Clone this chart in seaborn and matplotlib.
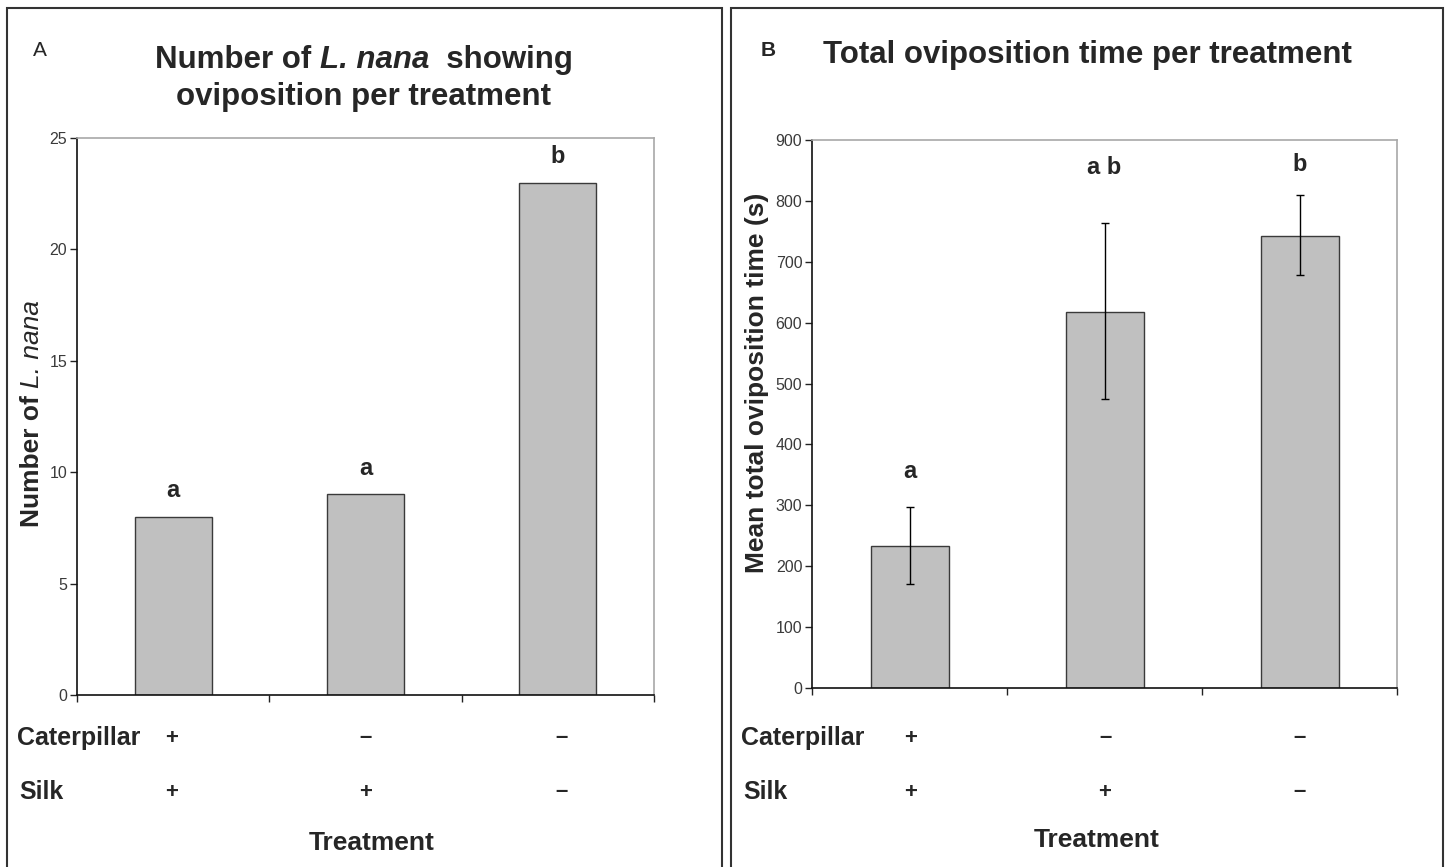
import matplotlib
matplotlib.use("Agg")
import matplotlib.pyplot as plt
from matplotlib.patches import Rectangle
import seaborn as sns
import pandas as pd
import numpy as np

# ---------------- data ----------------
treatments = ["Cat+ Silk+", "Cat- Silk+", "Cat- Silk-"]
num_lnana = [8, 9, 23]
mean_time = [233, 618, 743]
time_err_low = [170, 475, 678]
time_err_high = [298, 763, 810]
letters_a = ["a", "a", "b"]
letters_b = ["a", "a b", "b"]
caterpillar_signs = ["+", "\u2013", "\u2013"]
silk_signs = ["+", "+", "\u2013"]
yticks_a = [0, 5, 10, 15, 20, 25]
yticks_b = [0, 100, 200, 300, 400, 500, 600, 700, 800, 900]

sns.set_theme(style="white")
plt.rcParams["font.family"] = ["Liberation Sans", "DejaVu Sans"]

W, H = 1449, 867
fig = plt.figure(figsize=(W / 100, H / 100), dpi=100)

def fx(px):
    return px / W

def fy(py):
    return 1 - py / H

# panel borders
for x0, x1 in [(7, 722), (731, 1443)]:
    fig.patches.append(Rectangle((fx(x0), fy(870)), fx(x1) - fx(x0), fy(8) - fy(870),
                                 transform=fig.transFigure, fill=False,
                                 edgecolor="#333333", linewidth=1.5))

df_a = pd.DataFrame({"treatment": treatments, "value": num_lnana})
df_b = pd.DataFrame({"treatment": treatments, "value": mean_time})

ax_a = fig.add_axes([fx(77), fy(695), fx(654) - fx(77), fy(138) - fy(695)])
ax_b = fig.add_axes([fx(812), fy(688), fx(1397) - fx(812), fy(140) - fy(688)])

for ax, df in [(ax_a, df_a), (ax_b, df_b)]:
    sns.barplot(data=df, x="treatment", y="value", ax=ax, color="#C0C0C0",
                edgecolor="#3a3a3a", linewidth=1.0, width=0.4, errorbar=None,
                saturation=1)

# error bars on panel B
xpos = np.arange(len(treatments))
yerr = [np.array(mean_time) - np.array(time_err_low),
        np.array(time_err_high) - np.array(mean_time)]
ax_b.errorbar(xpos, mean_time, yerr=yerr, fmt="none", ecolor="black",
              elinewidth=1.0, capsize=3, capthick=1.0)

def style_axes(ax, ymax, yticks):
    ax.set_xlim(-0.5, 2.5)
    ax.set_ylim(0, ymax)
    ax.set_yticks(yticks)
    ax.set_yticklabels([str(t) for t in yticks], color="#3a3a3a", fontsize=11.5)
    ax.set_xticks([-0.5, 0.5, 1.5, 2.5])
    ax.set_xticklabels([])
    ax.set_xlabel("")
    ax.set_ylabel("")
    ax.tick_params(axis="both", direction="out", length=5, width=1, color="#222222",
                   bottom=True, left=True, pad=2)
    for s in ["left", "bottom"]:
        ax.spines[s].set_color("#111111")
        ax.spines[s].set_linewidth(1.2)
    for s in ["top", "right"]:
        ax.spines[s].set_color("#A8A8A8")
        ax.spines[s].set_linewidth(1.2)
    ax.set_facecolor("white")

style_axes(ax_a, 25, yticks_a)
style_axes(ax_b, 900, yticks_b)

# significance letters
fs_let = 17
for i, (v, l) in enumerate(zip(num_lnana, letters_a)):
    ax_a.annotate(l, (i, v), xytext=(0, 26), textcoords="offset pixels",
                  ha="center", va="center", fontsize=fs_let, fontweight="bold")
offs_b = [35, 56, 30]
for i, (v, l) in enumerate(zip(time_err_high, letters_b)):
    ax_b.annotate(l, (i, v), xytext=(0, offs_b[i]), textcoords="offset pixels",
                  ha="center", va="center", fontsize=fs_let, fontweight="bold")

renderer = fig.canvas.get_renderer()

# y label A (mixed bold / italic)
fs_ylab = 19
t1 = fig.text(fx(32), fy(527), "Number of ", rotation=90, fontsize=fs_ylab,
              fontweight="bold", ha="center", va="bottom")
bb = t1.get_window_extent(renderer)
fig.text(fx(32), bb.y1 / H, "L. nana", rotation=90, fontsize=fs_ylab,
         fontstyle="italic", fontweight="normal", ha="center", va="bottom")

# y label B
fig.text(fx(757), fy(383), "Mean total oviposition time (s)", rotation=90,
         fontsize=fs_ylab, fontweight="bold", ha="center", va="center")

# panel letters
fig.text(fx(40), fy(50), "A", fontsize=15, fontweight="normal", ha="center", va="center")
fig.text(fx(768), fy(50), "B", fontsize=15, fontweight="bold", ha="center", va="center")

# Title A line 1 with italic part
fs_title = 22.5
parts = [("Number of ", "normal"), ("L. nana", "italic"), ("  showing", "normal")]
widths = []
for s, st in parts:
    t = fig.text(0, 0, s, fontsize=fs_title, fontweight="bold", fontstyle=st)
    widths.append(t.get_window_extent(renderer).width)
    t.remove()
xstart = 364 - sum(widths) / 2
for (s, st), w in zip(parts, widths):
    fig.text(fx(xstart), fy(60), s, fontsize=fs_title, fontweight="bold", fontstyle=st,
             ha="left", va="center")
    xstart += w
fig.text(fx(364), fy(97), "oviposition per treatment", fontsize=fs_title,
         fontweight="bold", ha="center", va="center")
fig.text(fx(1087), fy(55), "Total oviposition time per treatment", fontsize=fs_title,
         fontweight="bold", ha="center", va="center")

# treatment rows
fs_row = 18
cols_a = [172, 366, 562]
cols_b = [911, 1105, 1300]
for lx, cols in [(17, cols_a), (741, cols_b)]:
    fig.text(fx(lx), fy(738), "Caterpillar", fontsize=fs_row, fontweight="bold",
             ha="left", va="center")
    fig.text(fx(lx + 2), fy(792), "Silk", fontsize=fs_row, fontweight="bold",
             ha="left", va="center")
    for c, cs, ss in zip(cols, caterpillar_signs, silk_signs):
        fig.text(fx(c), fy(738), cs, fontsize=16, fontweight="bold", ha="center", va="center")
        fig.text(fx(c), fy(792), ss, fontsize=16, fontweight="bold", ha="center", va="center")

fig.text(fx(372), fy(843), "Treatment", fontsize=19, fontweight="bold", ha="center", va="center")
fig.text(fx(1097), fy(840), "Treatment", fontsize=19, fontweight="bold", ha="center", va="center")

fig.savefig("out.png", dpi=100, facecolor="white")
